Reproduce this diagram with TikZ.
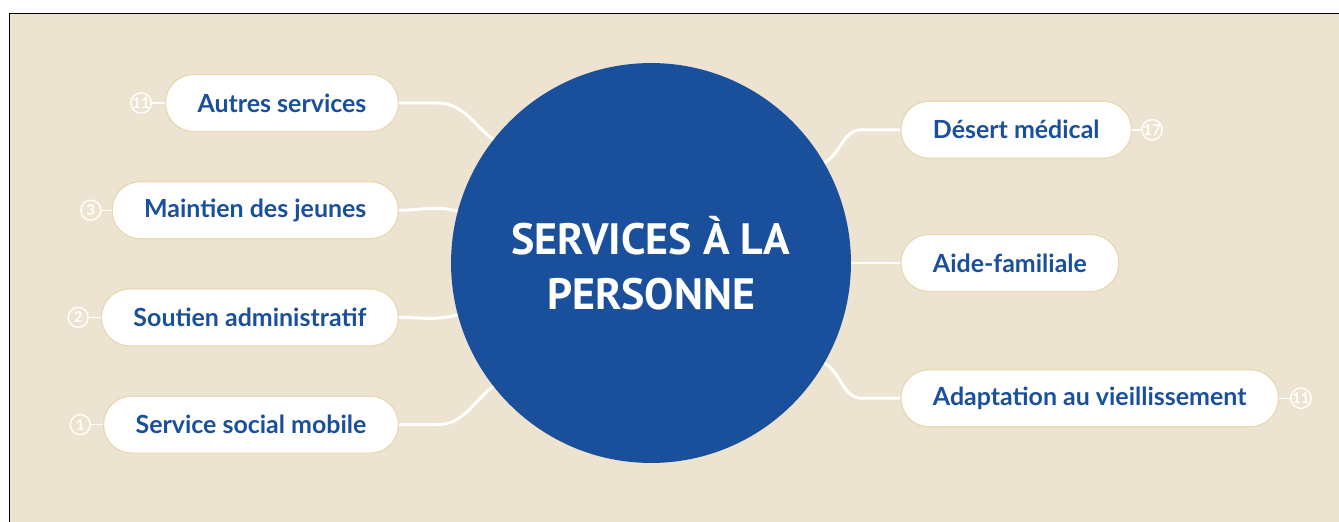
\documentclass[tikz,border=0pt]{standalone}
\usepackage{fontspec}
\usetikzlibrary{positioning}
\newfontfamily\labelfont{Lato}
\newfontfamily\titlefont{PT Sans}
\definecolor{sandbg}{HTML}{EDE3D1}
\definecolor{hubblue}{HTML}{1A509B}
\definecolor{pillline}{HTML}{E9D8B4}

\begin{document}
\begin{tikzpicture}[x=0.02cm, y=0.02cm, node distance=0.98cm]
  \tikzstyle{pill}=[draw=pillline, line width=0.7pt, fill=white, rounded corners=0.56cm, minimum height=1.14cm, inner xsep=0.64cm, text=hubblue, font=\labelfont\bfseries\fontsize{14.2}{16}\selectfont]
  \tikzstyle{hub}=[circle, fill=hubblue, minimum size=8cm, inner sep=0pt, text=white, align=center, font=\titlefont\bfseries\fontsize{25}{31}\selectfont]
  \tikzstyle{badge}=[circle, draw=white, line width=0.8pt, minimum size=0.4cm, inner sep=0pt, text=white, font=\labelfont\bfseries\fontsize{8.5}{9}\selectfont]
  \tikzstyle{link}=[draw=white, line width=1.7pt]
  \tikzstyle{tick}=[draw=white, line width=0.8pt]

  % frame and background
  \useasboundingbox (0,0) rectangle (1339,-521);
  \clip (0,0) rectangle (1339,-521);
  \draw[line width=1.1pt, fill=sandbg] (9.5,-13.5) rectangle (1370,-560);

  % centre
  \node[hub] (hub) at (651,-263) {SERVICES À LA\\PERSONNE};

  % left branches (top -> bottom)
  \node[pill, anchor=east] (autres) at (399,-103) {Autres services};
  \node[pill, below left=0.98cm and 0cm of autres.south east] (maintien) {Maintien des jeunes};
  \node[pill, below left=0.98cm and 0cm of maintien.south east] (soutien) {Soutien administratif};
  \node[pill, below left=0.98cm and 0cm of soutien.south east] (mobile) {Service social mobile};

  % right branches
  \node[pill, right=0.98cm of hub] (aide) {Aide-familiale};
  \node[pill, above right=1.5cm and 0cm of aide.north west] (desert) {Désert médical};
  \node[pill, below right=1.54cm and 0cm of aide.south west] (vieil) {Adaptation au vieillissement};

  % counters
  \node[badge, left=0.26cm of autres] (nautres) {11};
  \node[badge, left=0.2cm of maintien] (nmaintien) {3};
  \node[badge, left=0.24cm of soutien] (nsoutien) {2};
  \node[badge, left=0.24cm of mobile] (nmobile) {1};
  \node[badge, right=0.18cm of desert] (ndesert) {17};
  \node[badge, right=0.22cm of vieil] (nvieil) {11};

  % links to the centre
  \draw[link] (autres.east) -- ++(38,0) to[out=0, in=142] (hub);
  \draw[link] (maintien.east) to[out=0, in=165] (hub);
  \draw[link] (soutien.east) to[out=0, in=195] (hub);
  \draw[link] (mobile.east) -- ++(38,0) to[out=0, in=218] (hub);
  \draw[link] (desert.west) -- ++(-38,0) to[out=180, in=30] (hub);
  \draw[link] (hub) -- (aide);
  \draw[link] (vieil.west) -- ++(-38,0) to[out=180, in=330] (hub);

  \draw[tick] (nautres) -- (autres);
  \draw[tick] (nmaintien) -- (maintien);
  \draw[tick] (nsoutien) -- (soutien);
  \draw[tick] (nmobile) -- (mobile);
  \draw[tick] (ndesert) -- (desert);
  \draw[tick] (nvieil) -- (vieil);
\end{tikzpicture}
\end{document}
